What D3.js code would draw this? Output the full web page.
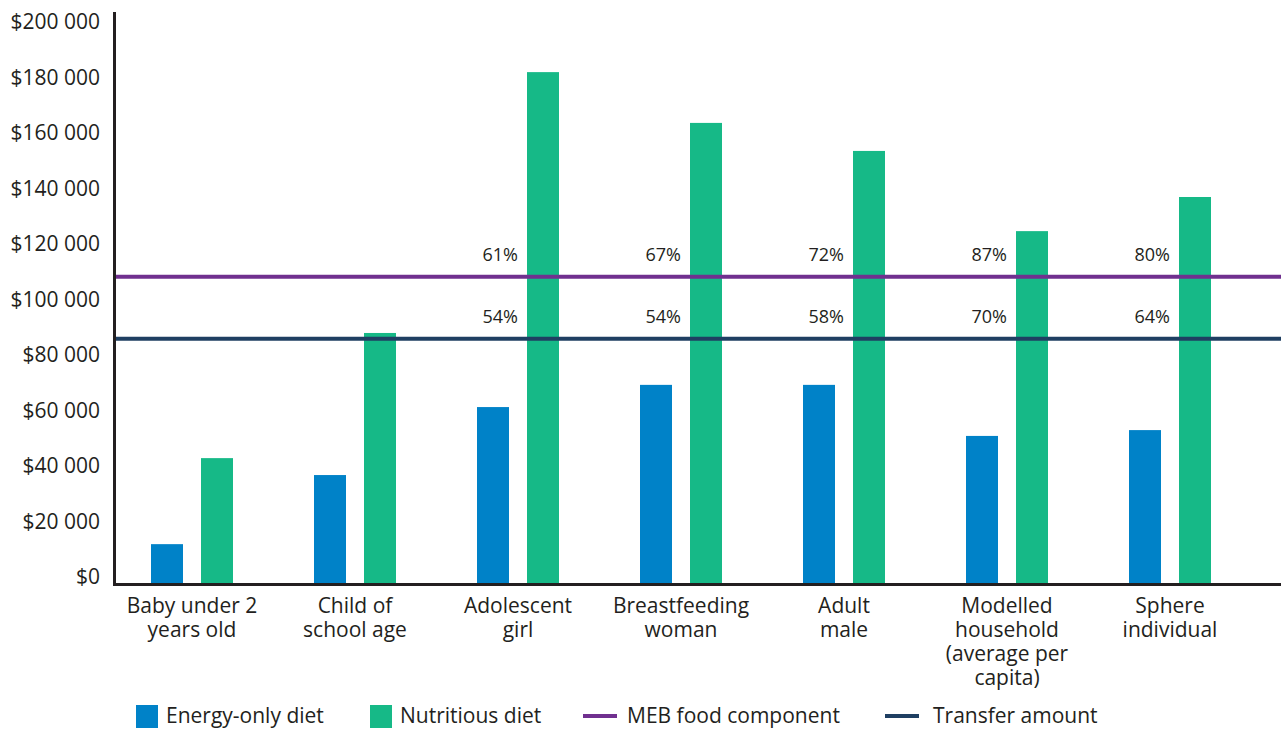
<!DOCTYPE html>
<html>
<head>
<meta charset="utf-8">
<script src="https://cdn.jsdelivr.net/npm/d3@7"></script>
<style>
  body { margin: 0; background: #fff; }
  text { font-family: "Open Sans", sans-serif; fill: #231f20; }
</style>
</head>
<body>
<svg id="chart" width="1282" height="729"></svg>
<script>
var categories = [
  ["Baby under 2", "years old"],
  ["Child of", "school age"],
  ["Adolescent", "girl"],
  ["Breastfeeding", "woman"],
  ["Adult", "male"],
  ["Modelled", "household", "(average per", "capita)"],
  ["Sphere", "individual"]
];
var energyOnly = [14000, 38900, 63400, 71400, 71400, 53000, 55100];
var nutritious = [45000, 90100, 184100, 165800, 155700, 126800, 139100];
var mebFood = 110400;
var transferAmount = 88000;
var mebPct = [null, null, "61%", "67%", "72%", "87%", "80%"];
var transferPct = [null, null, "54%", "54%", "58%", "70%", "64%"];
var yTicks = [0, 20000, 40000, 60000, 80000, 100000, 120000, 140000, 160000, 180000, 200000];

var colors = {energy: "#0082c8", nutri: "#16b987", meb: "#70308f", transfer: "#1f3f62", axis: "#231f20"};

var svg = d3.select("#chart");
var keys = categories.map(function(d, i){ return i; });

var x = d3.scaleBand().domain(keys).range([110.5, 1251.5]).padding(0);
var x1 = d3.scaleBand().domain(["energy", "nutri"]).range([-41, 41]).paddingInner(0.36).paddingOuter(0);
var y = d3.scaleLinear().domain([0, 200000]).range([583, 28]);

var fmt = function(v){ return "$" + d3.format(",")(v).replace(/,/g, " "); };

// y axis labels
var yAxis = svg.append("g")
  .attr("transform", "translate(100,-6)")
  .call(d3.axisLeft(y).tickValues(yTicks).tickSize(0).tickPadding(0).tickFormat(fmt));
yAxis.select(".domain").remove();
yAxis.selectAll("text").style("font-size", "21px").style("font-family", "'Open Sans', sans-serif").attr("fill", colors.axis);

// bars
var groups = svg.append("g").selectAll("g")
  .data(keys)
  .join("g")
  .attr("transform", function(i){ return "translate(" + (x(i) + x.bandwidth() / 2) + ",0)"; });

groups.append("rect")
  .attr("x", x1("energy"))
  .attr("width", x1.bandwidth())
  .attr("y", function(i){ return y(energyOnly[i]); })
  .attr("height", function(i){ return y(0) - y(energyOnly[i]); })
  .attr("fill", colors.energy);

groups.append("rect")
  .attr("x", x1("nutri"))
  .attr("width", x1.bandwidth())
  .attr("y", function(i){ return y(nutritious[i]); })
  .attr("height", function(i){ return y(0) - y(nutritious[i]); })
  .attr("fill", colors.nutri);

// reference lines
svg.append("line")
  .attr("x1", 115).attr("x2", 1281)
  .attr("y1", y(mebFood)).attr("y2", y(mebFood))
  .attr("stroke", colors.meb).attr("stroke-width", 4);
svg.append("line")
  .attr("x1", 115).attr("x2", 1281)
  .attr("y1", y(transferAmount)).attr("y2", y(transferAmount))
  .attr("stroke", colors.transfer).attr("stroke-width", 4);

// percentage labels
groups.filter(function(i){ return mebPct[i]; }).append("text")
  .attr("text-anchor", "end")
  .attr("y", y(mebFood) - 15.5)
  .style("font-size", "18px")
  .text(function(i){ return mebPct[i]; });
groups.filter(function(i){ return transferPct[i]; }).append("text")
  .attr("text-anchor", "end")
  .attr("y", y(transferAmount) - 15.5)
  .style("font-size", "18px")
  .text(function(i){ return transferPct[i]; });

// axes lines
svg.append("path")
  .attr("d", "M114.5,12V" + (y(0) + 2.5))
  .attr("stroke", colors.axis).attr("stroke-width", 3).attr("fill", "none");
svg.append("path")
  .attr("d", "M113," + (y(0) + 1.5) + "H1281")
  .attr("stroke", colors.axis).attr("stroke-width", 3).attr("fill", "none");

// category labels
groups.append("text")
  .attr("text-anchor", "middle")
  .style("font-size", "21px")
  .selectAll("tspan")
  .data(function(i){ return categories[i]; })
  .join("tspan")
  .attr("x", 0)
  .attr("y", function(d, j){ return 613 + j * 24; })
  .text(function(d){ return d; });

// legend
var legend = svg.append("g").style("font-size", "21px");
legend.append("rect").attr("x", 136).attr("y", 705).attr("width", 22).attr("height", 23).attr("fill", colors.energy);
legend.append("text").attr("x", 166).attr("y", 723).text("Energy-only diet");
legend.append("rect").attr("x", 370).attr("y", 705).attr("width", 22).attr("height", 23).attr("fill", colors.nutri);
legend.append("text").attr("x", 400).attr("y", 723).text("Nutritious diet");
legend.append("line").attr("x1", 583).attr("x2", 617).attr("y1", 716).attr("y2", 716).attr("stroke", colors.meb).attr("stroke-width", 4);
legend.append("text").attr("x", 627).attr("y", 723).text("MEB food component");
legend.append("line").attr("x1", 885).attr("x2", 919).attr("y1", 716).attr("y2", 716).attr("stroke", colors.transfer).attr("stroke-width", 4);
legend.append("text").attr("x", 933).attr("y", 723).text("Transfer amount");
</script>
</body>
</html>
